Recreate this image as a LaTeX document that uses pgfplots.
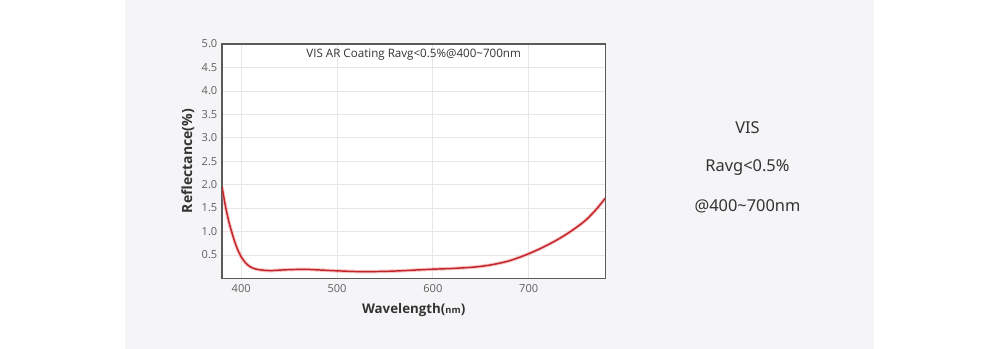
\documentclass[border=0pt]{standalone}
\usepackage{fontspec}
\setmainfont{Open Sans}
\newfontfamily\notosans{Noto Sans}
\usepackage{pgfplots}
\pgfplotsset{compat=1.18}
\definecolor{panel}{HTML}{F5F5F7}
\definecolor{gridc}{HTML}{E6E6E6}
\definecolor{axc}{HTML}{5A5A5A}
\definecolor{tickc}{HTML}{606060}
\definecolor{curvec}{HTML}{C2262B}
\definecolor{glowc}{HTML}{F28A8A}
\definecolor{txtc}{HTML}{333333}
\pgfplotstableread{
x y
380 1.95
382 1.72
384 1.50
387 1.22
390 1.00
393 0.80
396 0.63
400 0.46
405 0.32
410 0.24
415 0.20
420 0.18
430 0.165
440 0.175
450 0.185
460 0.19
470 0.19
480 0.18
490 0.17
500 0.16
520 0.145
540 0.145
560 0.155
580 0.175
600 0.195
620 0.21
640 0.235
650 0.255
660 0.285
670 0.325
680 0.375
690 0.445
700 0.525
710 0.615
720 0.715
730 0.825
740 0.95
750 1.09
760 1.25
770 1.46
780 1.71
}\curve
\begin{document}
\begin{tikzpicture}
\useasboundingbox (0,0) rectangle (750pt,261.75pt);
\fill[white] (0,0) rectangle (750pt,261.75pt);
\fill[panel] (93.75pt,0) rectangle (655.75pt,261.75pt);
\begin{axis}[
  at={(166.5pt,53pt)}, anchor=south west,
  scale only axis, width=287.5pt, height=175.7pt,
  xmin=380, xmax=780, ymin=0, ymax=5,
  xtick={400,500,600,700},
  ytick={0.5,1,...,5},
  yticklabel style={/pgf/number format/fixed,/pgf/number format/precision=1,/pgf/number format/fixed zerofill},
  /pgf/number format/assume math mode=true,
  major tick length=0pt,
  grid=major,
  major grid style={gridc, line width=0.6pt},
  axis line style={axc, line width=1.1pt},
  axis background/.style={fill=white},
  tick label style={font=\fontsize{8.3}{9}\selectfont, text=tickc},
  xticklabel style={yshift=-1pt},
  xlabel={\textbf{Wavelength(}{\fontsize{7}{8}\selectfont\bfseries nm}\textbf{)}},
  ylabel={\textbf{Reflectance(\%)}},
  every axis x label/.style={at={(axis description cs:0.5,-0.135)}, anchor=center, font=\fontsize{10}{12}\selectfont, text=txtc},
  every axis y label/.style={at={(axis description cs:-0.089,0.5)}, rotate=90, anchor=center, font=\fontsize{10.5}{12}\selectfont, text=txtc},
  clip=true,
]
\addplot[glowc, opacity=0.5, line width=2.6pt, smooth, tension=0.5] table[x=x,y=y]{\curve};
\addplot[curvec, line width=1.1pt, smooth, tension=0.5] table[x=x,y=y]{\curve};
\node[font=\fontsize{8.7}{10}\selectfont, text=txtc] at (axis description cs:0.5,0.953) {VIS AR Coating Ravg<0.5\%@400\textasciitilde700nm};
\end{axis}
\node[font=\notosans\fontsize{12.3}{14}\selectfont, text=txtc] at (560.6pt,165.75pt) {VIS};
\node[font=\notosans\fontsize{12.3}{14}\selectfont, text=txtc] at (560.6pt,135.75pt) {Ravg<0.5\%};
\node[font=\notosans\fontsize{12.3}{14}\selectfont, text=txtc] at (560.6pt,107.25pt) {@400\textasciitilde700nm};
\end{tikzpicture}
\end{document}
